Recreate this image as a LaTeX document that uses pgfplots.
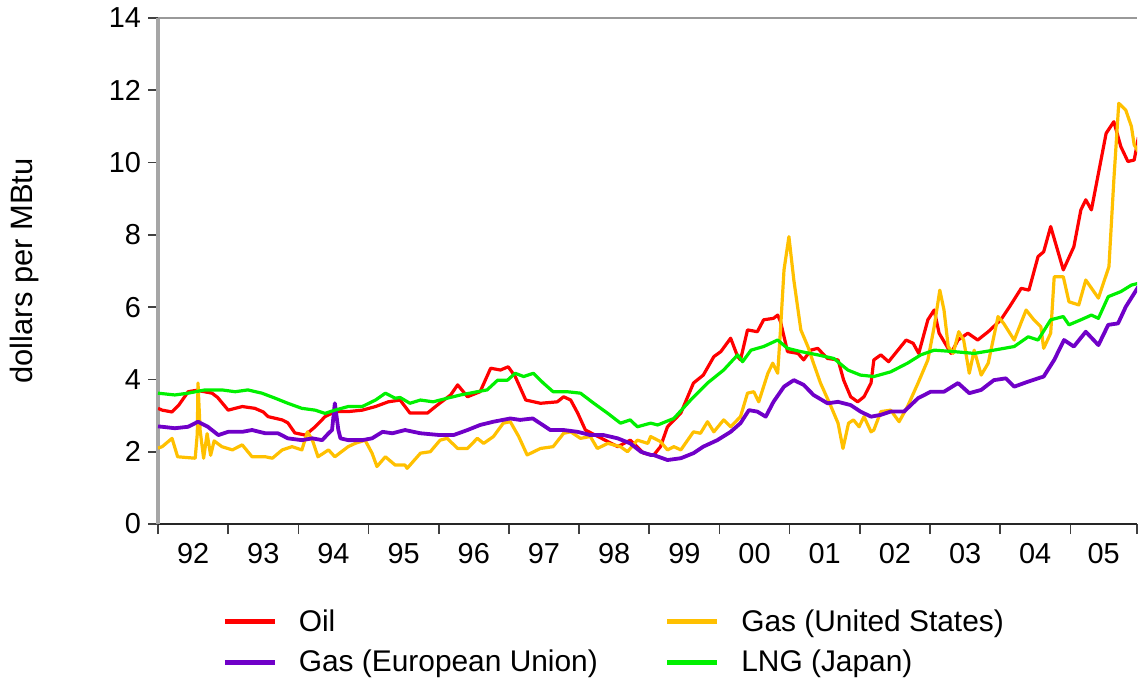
\documentclass[border=0pt]{standalone}
\usepackage{fontspec}
\setmainfont{Liberation Sans}
\usepackage{pgfplots}
\pgfplotsset{compat=1.18}
\definecolor{oilred}{RGB}{255,0,0}
\definecolor{gasus}{RGB}{255,192,0}
\definecolor{gaseu}{RGB}{112,0,200}
\definecolor{lng}{RGB}{0,240,0}
\begin{document}
\begin{tikzpicture}
\useasboundingbox (-79bp,-81.5bp) rectangle (490bp,262bp);
\begin{axis}[
  at={(0,0)}, anchor=south west,
  scale only axis, width=489.5bp, height=253bp,
  xmin=1992, xmax=2005.95, ymin=0, ymax=14,
  axis x line*=bottom, axis y line*=left,
  x axis line style={black!85, line width=1bp},
  y axis line style={black!35, line width=2bp},
  xtick={1992,1993,1994,1995,1996,1997,1998,1999,2000,2001,2002,2003,2004,2005,2005.95},
  xticklabels={92,93,94,95,96,97,98,99,00,01,02,03,04,05},
  x tick label as interval,
  xticklabel style={yshift=-1bp},
  ytick={0,2,4,6,8,10,12,14},
  xtick pos=bottom, ytick pos=left,
  tick align=outside,
  major tick length=5bp,
  tick style={black!75, line width=0.8bp},
  /pgf/number format/assume math mode=true,
  ticklabel style={font=\fontsize{14.5}{16}\selectfont},
  ylabel={dollars per MBtu},
  every axis y label/.style={at={(axis description cs:-0.136,0.5)}, anchor=center, rotate=90, font=\fontsize{15.5}{17}\selectfont},
  legend columns=2,
  legend cell align=left,
  legend image code/.code={\draw[#1, line width=2.5bp] (0bp,0bp) -- (25bp,0bp); \path[draw=none,fill=none] (0bp,0bp) -- (37bp,0bp);},
  legend style={at={(axis description cs:0.0653,-0.168)}, anchor=north west, draw=none, fill=none,
    font=\fontsize{15}{17}\selectfont, inner sep=0pt, nodes={inner sep=0pt}, row sep=8bp,
    /tikz/every even column/.append style={column sep=33.5bp}},
  every axis plot/.append style={line join=round},
]
\draw[black!40, line width=1bp] (rel axis cs:0,1) -- (rel axis cs:1,1);

\addplot[oilred, line width=1.6bp] coordinates {
(1992.00,3.2) (1992.06,3.15) (1992.20,3.1) (1992.30,3.3) (1992.43,3.66) (1992.55,3.7) (1992.77,3.62) (1992.85,3.5)
(1993.00,3.15) (1993.20,3.25) (1993.38,3.2) (1993.50,3.1) (1993.57,2.97) (1993.77,2.88) (1993.85,2.8) (1993.95,2.52)
(1994.10,2.46) (1994.24,2.69) (1994.38,2.97) (1994.52,3.11) (1994.71,3.11) (1994.91,3.15)
(1995.10,3.25) (1995.28,3.38) (1995.45,3.43) (1995.59,3.07) (1995.84,3.07) (1995.98,3.29)
(1996.17,3.57) (1996.27,3.85) (1996.41,3.52) (1996.59,3.66) (1996.74,4.31) (1996.88,4.26) (1996.99,4.35)
(1997.09,4.08) (1997.24,3.43) (1997.45,3.34) (1997.69,3.38) (1997.78,3.52) (1997.88,3.43) (1997.98,3.07)
(1998.09,2.6) (1998.31,2.38) (1998.55,2.14) (1998.73,2.32) (1998.92,1.96)
(1999.06,1.9) (1999.16,2.14) (1999.26,2.69) (1999.45,3.07) (1999.63,3.9) (1999.77,4.12) (1999.92,4.63)
(2000.02,4.77) (2000.16,5.14) (2000.26,4.63) (2000.30,4.54) (2000.40,5.37) (2000.54,5.32) (2000.63,5.65) (2000.77,5.69) (2000.83,5.78) (2000.87,5.6) (2000.97,4.77)
(2001.12,4.72) (2001.20,4.54) (2001.30,4.81) (2001.40,4.86) (2001.54,4.58) (2001.69,4.54) (2001.77,3.98) (2001.87,3.52) (2001.97,3.38)
(2002.06,3.52) (2002.16,3.9) (2002.20,4.54) (2002.30,4.68) (2002.41,4.49) (2002.66,5.09) (2002.76,5.0) (2002.84,4.72) (2002.97,5.65)
(2003.06,5.92) (2003.13,5.28) (2003.30,4.72) (2003.40,5.09) (2003.54,5.28) (2003.68,5.09) (2003.83,5.32)
(2004.01,5.65) (2004.15,6.06) (2004.30,6.52) (2004.41,6.47) (2004.54,7.4) (2004.62,7.53) (2004.72,8.23) (2004.90,7.03)
(2005.05,7.67) (2005.15,8.69) (2005.22,8.97) (2005.30,8.69) (2005.41,9.8) (2005.51,10.81) (2005.62,11.13) (2005.72,10.44) (2005.82,10.03) (2005.91,10.07) (2005.97,10.7)
};
\addlegendentry{Oil}

\addplot[gasus, line width=1.6bp] coordinates {
(1992.00,2.1) (1992.06,2.14) (1992.20,2.37) (1992.28,1.86) (1992.53,1.82) (1992.56,2.5) (1992.57,3.9) (1992.60,2.6) (1992.65,1.82) (1992.70,2.5) (1992.75,1.9) (1992.80,2.3) (1992.91,2.14)
(1993.06,2.05) (1993.20,2.19) (1993.34,1.86) (1993.53,1.86) (1993.63,1.82) (1993.77,2.05) (1993.91,2.14)
(1994.05,2.05) (1994.13,2.55) (1994.20,2.32) (1994.28,1.86) (1994.43,2.05) (1994.52,1.86) (1994.71,2.14) (1994.81,2.23) (1994.95,2.32)
(1995.05,1.96) (1995.12,1.59) (1995.24,1.86) (1995.38,1.63) (1995.52,1.63) (1995.55,1.54) (1995.74,1.96) (1995.88,2.0)
(1996.02,2.32) (1996.12,2.37) (1996.27,2.09) (1996.41,2.09) (1996.55,2.37) (1996.64,2.23) (1996.78,2.42) (1996.92,2.79)
(1997.02,2.83) (1997.14,2.42) (1997.26,1.91) (1997.45,2.09) (1997.63,2.14) (1997.78,2.51) (1997.88,2.55)
(1998.02,2.37) (1998.16,2.42) (1998.26,2.09) (1998.41,2.23) (1998.59,2.14) (1998.69,2.0) (1998.83,2.32) (1998.98,2.23)
(1999.02,2.42) (1999.16,2.28) (1999.26,2.05) (1999.35,2.14) (1999.45,2.05) (1999.63,2.55) (1999.73,2.51) (1999.83,2.83) (1999.92,2.55)
(2000.06,2.88) (2000.16,2.69) (2000.30,2.97) (2000.40,3.62) (2000.49,3.66) (2000.56,3.38) (2000.69,4.17) (2000.76,4.45) (2000.83,4.17) (2000.87,5.37) (2000.92,7.03) (2000.99,7.95)
(2001.06,6.75) (2001.16,5.37) (2001.26,4.91) (2001.34,4.45) (2001.44,3.9) (2001.59,3.25) (2001.69,2.79) (2001.76,2.09) (2001.84,2.79) (2001.91,2.88) (2001.99,2.69)
(2002.06,2.97) (2002.16,2.55) (2002.20,2.6) (2002.30,3.11) (2002.44,3.15) (2002.56,2.83) (2002.68,3.25) (2002.83,3.9) (2002.97,4.54)
(2003.06,5.46) (2003.14,6.47) (2003.20,5.92) (2003.26,4.91) (2003.33,4.72) (2003.41,5.32) (2003.48,5.09) (2003.56,4.17) (2003.63,4.81) (2003.73,4.12) (2003.83,4.45) (2003.97,5.74)
(2004.05,5.55) (2004.20,5.09) (2004.37,5.92) (2004.48,5.65) (2004.58,5.46) (2004.62,4.86) (2004.72,5.28) (2004.77,6.84) (2004.90,6.84) (2004.98,6.15)
(2005.12,6.06) (2005.22,6.75) (2005.40,6.25) (2005.55,7.12) (2005.62,9.52) (2005.69,11.64) (2005.79,11.45) (2005.87,11.0) (2005.91,10.49) (2005.97,10.3)
};
\addlegendentry{Gas (United States)}

\addplot[gaseu, line width=1.9bp] coordinates {
(1992.00,2.7) (1992.06,2.69) (1992.24,2.65) (1992.43,2.69) (1992.57,2.83) (1992.71,2.69) (1992.86,2.46)
(1993.00,2.55) (1993.20,2.55) (1993.34,2.6) (1993.53,2.51) (1993.71,2.51) (1993.85,2.37)
(1994.05,2.32) (1994.20,2.37) (1994.34,2.32) (1994.43,2.51) (1994.48,2.6) (1994.52,3.34) (1994.57,2.6) (1994.60,2.37) (1994.71,2.32) (1994.91,2.32)
(1995.05,2.37) (1995.20,2.55) (1995.34,2.51) (1995.52,2.6) (1995.74,2.51)
(1996.02,2.46) (1996.21,2.46) (1996.41,2.6) (1996.59,2.74) (1996.78,2.83)
(1997.02,2.92) (1997.16,2.88) (1997.34,2.92) (1997.45,2.78) (1997.59,2.6) (1997.78,2.6) (1997.98,2.55)
(1998.16,2.46) (1998.35,2.46) (1998.55,2.37) (1998.73,2.23) (1998.88,2.0)
(1999.02,1.91) (1999.06,1.91) (1999.26,1.77) (1999.45,1.82) (1999.63,1.96) (1999.77,2.14) (1999.97,2.32)
(2000.16,2.55) (2000.30,2.79) (2000.42,3.15) (2000.54,3.11) (2000.66,2.97) (2000.77,3.38) (2000.92,3.8)
(2001.06,3.98) (2001.20,3.85) (2001.34,3.57) (2001.54,3.34) (2001.69,3.38) (2001.87,3.29)
(2002.01,3.11) (2002.16,2.97) (2002.30,3.02) (2002.44,3.11) (2002.63,3.11) (2002.83,3.48)
(2003.01,3.66) (2003.20,3.66) (2003.40,3.9) (2003.56,3.62) (2003.73,3.71) (2003.91,3.98)
(2004.08,4.03) (2004.20,3.8) (2004.40,3.94) (2004.62,4.08) (2004.77,4.54) (2004.91,5.09)
(2005.05,4.91) (2005.22,5.32) (2005.40,4.95) (2005.54,5.51) (2005.68,5.55) (2005.79,6.01) (2005.91,6.38) (2005.97,6.57)
};
\addlegendentry{Gas (European Union)}

\addplot[lng, line width=1.6bp] coordinates {
(1992.00,3.62) (1992.24,3.57) (1992.43,3.62) (1992.67,3.71) (1992.91,3.71)
(1993.10,3.66) (1993.28,3.71) (1993.48,3.62) (1993.67,3.48) (1993.85,3.34)
(1994.05,3.2) (1994.24,3.15) (1994.38,3.06) (1994.52,3.15) (1994.71,3.25) (1994.91,3.25)
(1995.10,3.43) (1995.24,3.62) (1995.38,3.48) (1995.45,3.5) (1995.59,3.34) (1995.74,3.43) (1995.92,3.38)
(1996.12,3.48) (1996.31,3.57) (1996.55,3.66) (1996.69,3.71) (1996.84,3.98) (1996.98,3.98)
(1997.09,4.17) (1997.21,4.08) (1997.35,4.17) (1997.49,3.9) (1997.63,3.66) (1997.83,3.66)
(1998.02,3.62) (1998.21,3.34) (1998.41,3.06) (1998.59,2.79) (1998.73,2.88) (1998.83,2.69)
(1999.02,2.79) (1999.12,2.74) (1999.35,2.92) (1999.59,3.43) (1999.83,3.9)
(2000.06,4.26) (2000.26,4.68) (2000.33,4.49) (2000.45,4.81) (2000.63,4.91) (2000.83,5.09) (2000.97,4.86)
(2001.16,4.77) (2001.40,4.68) (2001.63,4.58) (2001.83,4.26)
(2002.01,4.12) (2002.20,4.08) (2002.44,4.21) (2002.49,4.26) (2002.68,4.45) (2002.87,4.68)
(2003.06,4.81) (2003.34,4.77) (2003.63,4.72) (2003.91,4.81)
(2004.20,4.91) (2004.40,5.18) (2004.54,5.09) (2004.72,5.65) (2004.90,5.74) (2004.98,5.51)
(2005.15,5.65) (2005.30,5.78) (2005.40,5.69) (2005.54,6.29) (2005.72,6.43) (2005.87,6.61) (2005.97,6.66)
};
\addlegendentry{LNG (Japan)}
\end{axis}
\end{tikzpicture}
\end{document}
